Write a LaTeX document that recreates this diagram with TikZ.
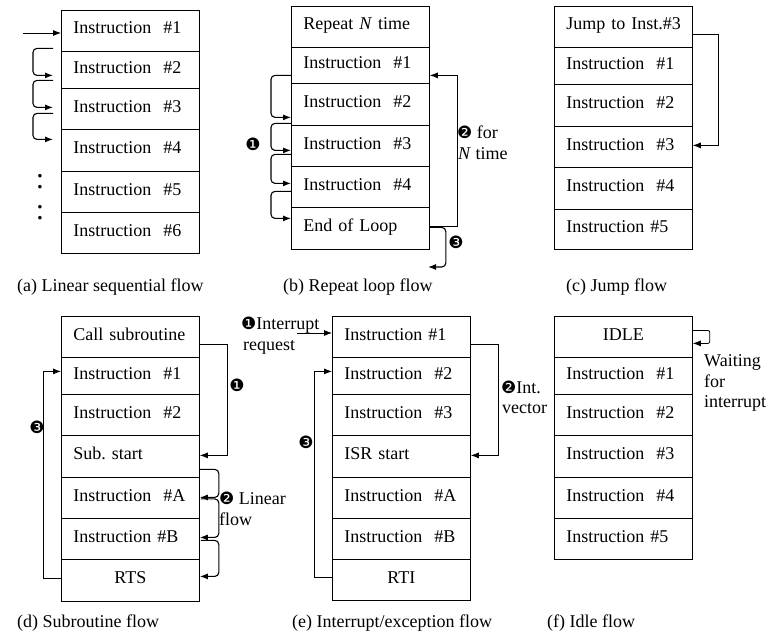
\documentclass[tikz,border=0pt]{standalone}
\usepackage{fontspec}
\setmainfont{Liberation Serif}
\newfontfamily\dingfont{DejaVu Sans}
\usetikzlibrary{arrows.meta,calc}
\newcommand\cirone{{\dingfont\fontsize{17}{17}\selectfont ❶}}
\newcommand\cirtwo{{\dingfont\fontsize{17}{17}\selectfont ❷}}
\newcommand\cirthree{{\dingfont\fontsize{17}{17}\selectfont ❸}}
\frenchspacing
\begin{document}
\begin{tikzpicture}[x=1pt,y=-1pt,font=\fontsize{18}{21}\selectfont,
  cell/.style={draw, line width=0.8pt, anchor=north west, minimum width=138pt,
    inner xsep=12pt, inner ysep=0pt, text width=114pt, align=left,
    text height=0.72em, text depth=0.1em},
  ccell/.style={cell, align=center},
  lbl/.style={anchor=base west, inner sep=0pt},
  num/.style={inner sep=0pt},
  arr/.style={line width=0.8pt, -{Latex[length=8pt,width=6pt]}},
  brk/.style={line width=1.1pt, rounded corners=4pt, -{Latex[length=8pt,width=6pt]}}]
\useasboundingbox (0,0) rectangle (769,637);

% ---------- (a) ----------
\node[cell, minimum height=41pt] (a1) at (61,10)  {Instruction\ \ \#1};
\node[cell, minimum height=37pt] (a2) at (61,51)  {Instruction\ \ \#2};
\node[cell, minimum height=41pt] (a3) at (61,88)  {Instruction\ \ \#3};
\node[cell, minimum height=42pt] (a4) at (61,129) {Instruction\ \ \#4};
\node[cell, minimum height=41pt] (a5) at (61,171) {Instruction\ \ \#5};
\node[cell, minimum height=41pt] (a6) at (61,212) {Instruction\ \ \#6};
\coordinate (ain) at (23,33);
\draw[arr] (ain) -- (ain -| a1.west);
\draw[brk] ($(a1.west)+(-8,17.5)$) -- ++(-20,0) |- ($(a2.west)+(-8,5.5)$);
\draw[brk] ($(a2.west)+(-8,10.5)$) -- ++(-20,0) |- ($(a3.west)+(-8,-1.5)$);
\draw[brk] ($(a3.west)+(-8,4.5)$) -- ++(-20,0) |- ($(a4.west)+(-8,-11)$);
\node[font=\fontsize{30}{30}\selectfont, inner sep=0pt] (dotsA) at (40,182) {:};
\node[font=\fontsize{30}{30}\selectfont, inner sep=0pt] (dotsB) at (40,213) {:};
\node[lbl] (capa) at (17,291) {(a) Linear sequential flow};

% ---------- (b) ----------
\node[cell, minimum height=41pt] (b1) at (291,6)   {Repeat \textit{N} time};
\node[cell, minimum height=36pt] (b2) at (291,47)  {Instruction\ \ \#1};
\node[cell, minimum height=42pt] (b3) at (291,83)  {Instruction\ \ \#2};
\node[cell, minimum height=41pt] (b4) at (291,125) {Instruction\ \ \#3};
\node[cell, minimum height=41pt] (b5) at (291,166) {Instruction\ \ \#4};
\node[cell, minimum height=42pt] (b6) at (291,207) {End of Loop};
\draw[brk] ($(b2.west)+(0,10)$) -- ++(-20,0) |- ($(b3.west)+(0,13)$);
\draw[brk] ($(b3.west)+(0,19)$) -- ++(-20,0) |- ($(b4.west)+(0,4.5)$);
\draw[brk] ($(b4.west)+(0,8.5)$) -- ++(-20,0) |- ($(b5.west)+(0,-3.5)$);
\draw[brk] ($(b5.west)+(0,4.5)$) -- ++(-20,0) |- ($(b6.west)+(0,-10)$);
\node[num] (bn1) at (253,144) {\cirone};
\draw[arr] ($(b6.east)+(0,-2)$) -- ++(28,0) |- ($(b2.east)+(0,10)$);
\node[lbl] (bl2a) at (457,138) {\cirtwo\ for};
\node[lbl] (bl2b) at (458,159) {\textit{N} time};
\coordinate (bout) at (428,267);
\draw[brk] ($(b6.east)+(0,-1)$) -- ++(16,0) |- (bout);
\node[num] (bn3) at (456,242) {\cirthree};
\node[lbl] (capb) at (283,291) {(b) Repeat loop flow};

% ---------- (c) ----------
\node[cell, minimum height=41pt] (c1) at (554,6)   {\mbox{Jump to Inst.\#3}};
\node[cell, minimum height=37pt] (c2) at (554,47)  {Instruction\ \ \#1};
\node[cell, minimum height=42pt] (c3) at (554,84)  {Instruction\ \ \#2};
\node[cell, minimum height=41pt] (c4) at (554,126) {Instruction\ \ \#3};
\node[cell, minimum height=42pt] (c5) at (554,167) {Instruction\ \ \#4};
\node[cell, minimum height=40pt] (c6) at (554,209) {Instruction \#5};
\draw[arr] ($(c1.east)+(0,7.5)$) -- ++(26,0) |- ($(c4.east)+(0,-1.5)$);
\node[lbl] (capc) at (566,291) {(c) Jump flow};

% ---------- (d) ----------
\node[cell, minimum height=41pt] (d1) at (61,316) {Call subroutine};
\node[cell, minimum height=37pt] (d2) at (61,357) {Instruction\ \ \#1};
\node[cell, minimum height=41pt] (d3) at (61,394) {Instruction\ \ \#2};
\node[cell, minimum height=42pt] (d4) at (61,435) {Sub. start};
\node[cell, minimum height=41pt] (d5) at (61,477) {Instruction\ \ \#A};
\node[cell, minimum height=41pt] (d6) at (61,518) {Instruction \#B};
\node[ccell, minimum height=42pt] (d7) at (61,559) {RTS};
\draw[arr] ($(d1.east)+(0,7.5)$) -- ++(28,0) |- ($(d4.east)+(0,-1)$);
\node[num] (dn1) at (237,385) {\cirone};
\draw[arr] ($(d7.west)+(0,-2)$) -- ++(-18,0) |- ($(d2.west)+(0,-4.5)$);
\node[num] (dn3) at (37,427) {\cirthree};
\draw[brk] ($(d4.east)+(0,13)$) -- ++(19,0) |- ($(d5.east)+(0,-0.5)$);
\draw[brk] ($(d5.east)+(1,1)$) -- ++(18,0) |- ($(d6.east)+(0,-1.5)$);
\draw[brk] ($(d6.east)+(1,1.5)$) -- ++(18,0) |- ($(d7.east)+(0,-4)$);
\node[lbl] (dl2a) at (219,504) {\cirtwo\ Linear};
\node[lbl] (dl2b) at (219,525) {flow};
\node[lbl] (capd) at (17,627) {(d) Subroutine flow};

% ---------- (e) ----------
\node[cell, minimum height=41pt] (e1) at (332,316) {Instruction \#1};
\node[cell, minimum height=37pt] (e2) at (332,357) {Instruction\ \ \#2};
\node[cell, minimum height=41pt] (e3) at (332,394) {Instruction\ \ \#3};
\node[cell, minimum height=42pt] (e4) at (332,435) {ISR start};
\node[cell, minimum height=41pt] (e5) at (332,477) {Instruction\ \ \#A};
\node[cell, minimum height=41pt] (e6) at (332,518) {Instruction\ \ \#B};
\node[ccell, minimum height=41pt] (e7) at (332,559) {RTI};
\coordinate (ein) at (297,333);
\draw[arr] (ein) -- (ein -| e1.west);
\node[lbl] (el1a) at (241,329) {\cirone Interrupt};
\node[lbl] (el1b) at (243,350) {request};
\draw[arr] ($(e1.east)+(0,7.5)$) -- ++(28,0) |- ($(e4.east)+(0,-1)$);
\node[lbl] (el2a) at (501,393) {\cirtwo Int.};
\node[lbl] (el2b) at (502,413) {vector};
\draw[arr] ($(e7.west)+(0,-3)$) -- ++(-18,0) |- ($(e2.west)+(0,-4.5)$);
\node[num] (en3) at (306,442) {\cirthree};
\node[lbl] (cape) at (292,627) {(e) Interrupt/exception flow};

% ---------- (f) ----------
\node[ccell, minimum height=41pt] (f1) at (554,316) {IDLE};
\node[cell, minimum height=37pt] (f2) at (554,357) {Instruction\ \ \#1};
\node[cell, minimum height=41pt] (f3) at (554,394) {Instruction\ \ \#2};
\node[cell, minimum height=42pt] (f4) at (554,435) {Instruction\ \ \#3};
\node[cell, minimum height=41pt] (f5) at (554,477) {Instruction\ \ \#4};
\node[cell, minimum height=41pt] (f6) at (554,518) {Instruction \#5};
\draw[arr, rounded corners=2pt] ($(f1.east)+(0,-6.5)$) -- ++(17,0) |- ($(f1.east)+(0,6.5)$);
\node[lbl] (fl1) at (704,366) {Waiting};
\node[lbl] (fl2) at (704,387) {for};
\node[lbl] (fl3) at (704,407) {interrupt};
\node[lbl] (capf) at (547,627) {(f) Idle flow};
\end{tikzpicture}
\end{document}
